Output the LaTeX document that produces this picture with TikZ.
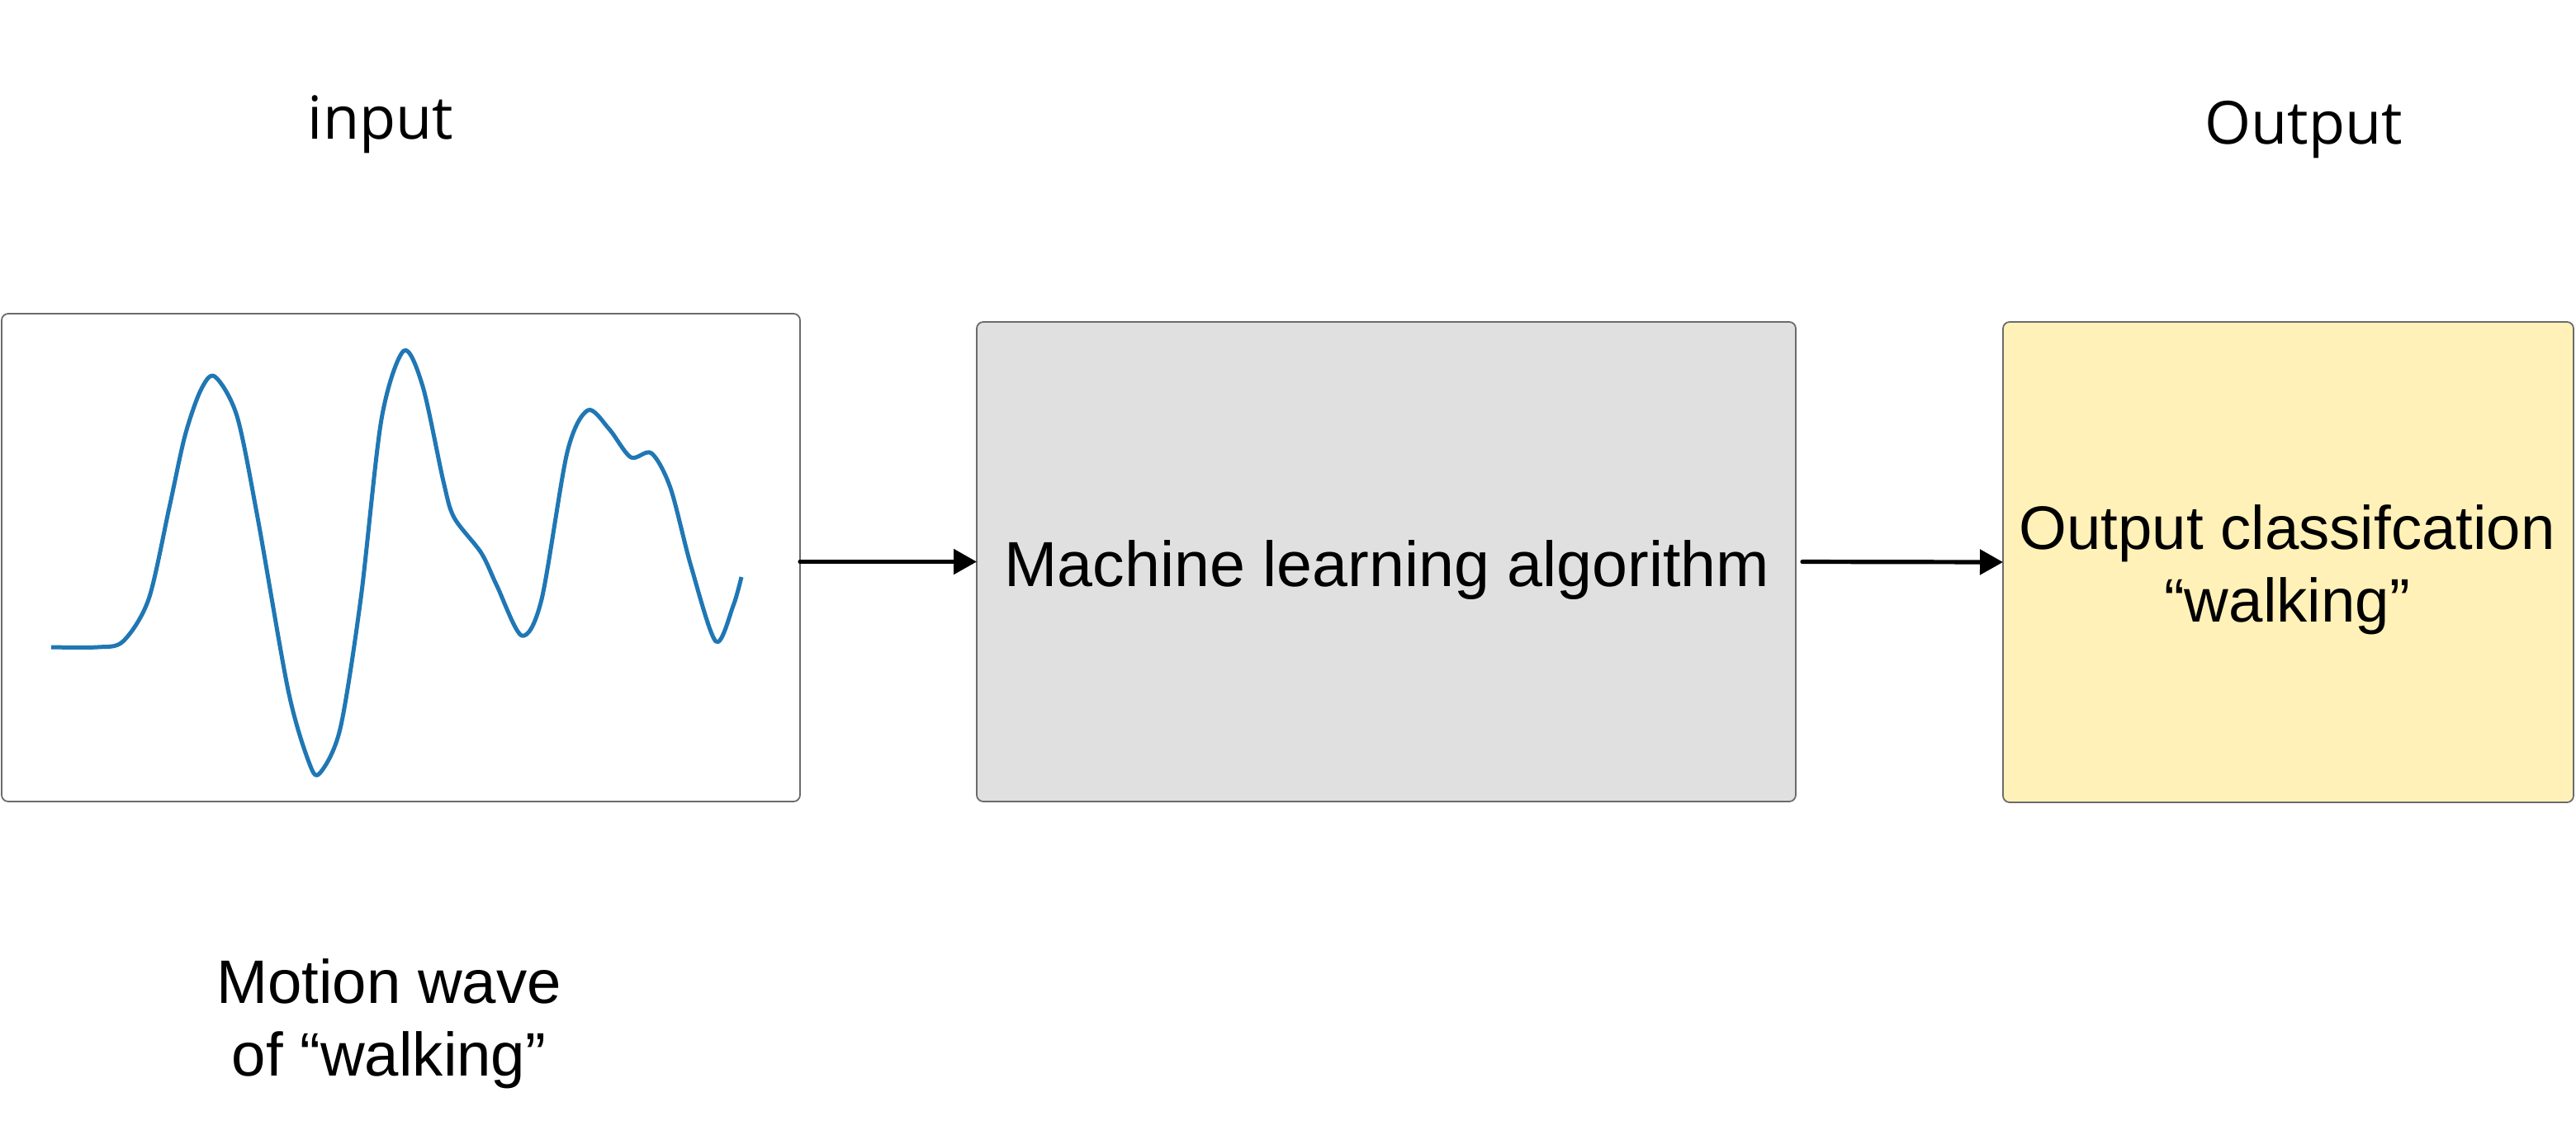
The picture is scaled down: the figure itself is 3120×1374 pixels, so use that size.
\documentclass[tikz,border=0pt]{standalone}
\usepackage{fontspec}
\setmainfont{Liberation Sans}
\newfontfamily\hfont{Open Sans}
\usetikzlibrary{arrows.meta}
\definecolor{wave}{HTML}{1F77B4}
\definecolor{edge}{HTML}{6B6B6B}
\definecolor{gbox}{HTML}{E0E0E0}
\definecolor{ybox}{HTML}{FFF1B8}
\begin{document}
\begin{tikzpicture}[x=0.25pt,y=-0.25pt,
 box/.style={draw=edge,line width=0.45pt,rounded corners=2pt,inner sep=0pt,outer sep=0pt},
 lbl/.style={inner sep=0pt,anchor=base,font=\fontsize{18.6pt}{22pt}\selectfont,align=center},
 hlbl/.style={inner sep=0pt,anchor=base,font=\hfont\fontsize{18pt}{22pt}\selectfont},
 arr/.style={-{Triangle[length=7pt,width=7.5pt]},line width=1.3pt,line cap=round},
 wv/.style={draw=wave,line width=1.25pt,line join=round}]
\useasboundingbox[fill=white] (0,0) rectangle (3120,1374);
\node[box,fill=white,minimum width=241.75pt,minimum height=147.75pt] (lbox) at (485.5,675.5) {};
\node[box,fill=gbox,minimum width=248pt,minimum height=145.25pt] (mbox) at (1679,680.5) {};
\node[box,fill=ybox,minimum width=172.75pt,minimum height=145.5pt] (rbox) at (2771.5,681) {};
\draw[wv] plot[smooth,tension=0.5] coordinates {(62,784) (118,784) (149,777) (180,726) (205,615) (224,528) (243,473) (260,456) (287,504) (312,627) (349,836) (374,923) (387,937) (412,883) (437,725) (462,508) (489,425) (512,468) (537,583) (550,627) (583,670) (602,710) (632,770) (656,726) (687,548) (712,497) (738,520) (764,554) (789,549) (812,591) (837,686) (867,777) (888,734) (898,699)};
\node[hlbl] (inlbl) at (461,168) {input};
\node[hlbl] (outlbl) at (2790,174) {Output};
\node[lbl] (motion) at (471,1303) {Motion wave\\of “walking”};
\node[lbl,font=\fontsize{19.3pt}{22pt}\selectfont] (mltext) at (1680,710) {Machine learning algorithm};
\node[lbl] (cls) at (2770,753) {Output classifcation\\“walking”};
\draw[arr] (lbox.east |- mbox.west) -- (mbox.west);
\draw[arr,shorten <=2pt] (mbox.east) -- (rbox.west);
\end{tikzpicture}
\end{document}
